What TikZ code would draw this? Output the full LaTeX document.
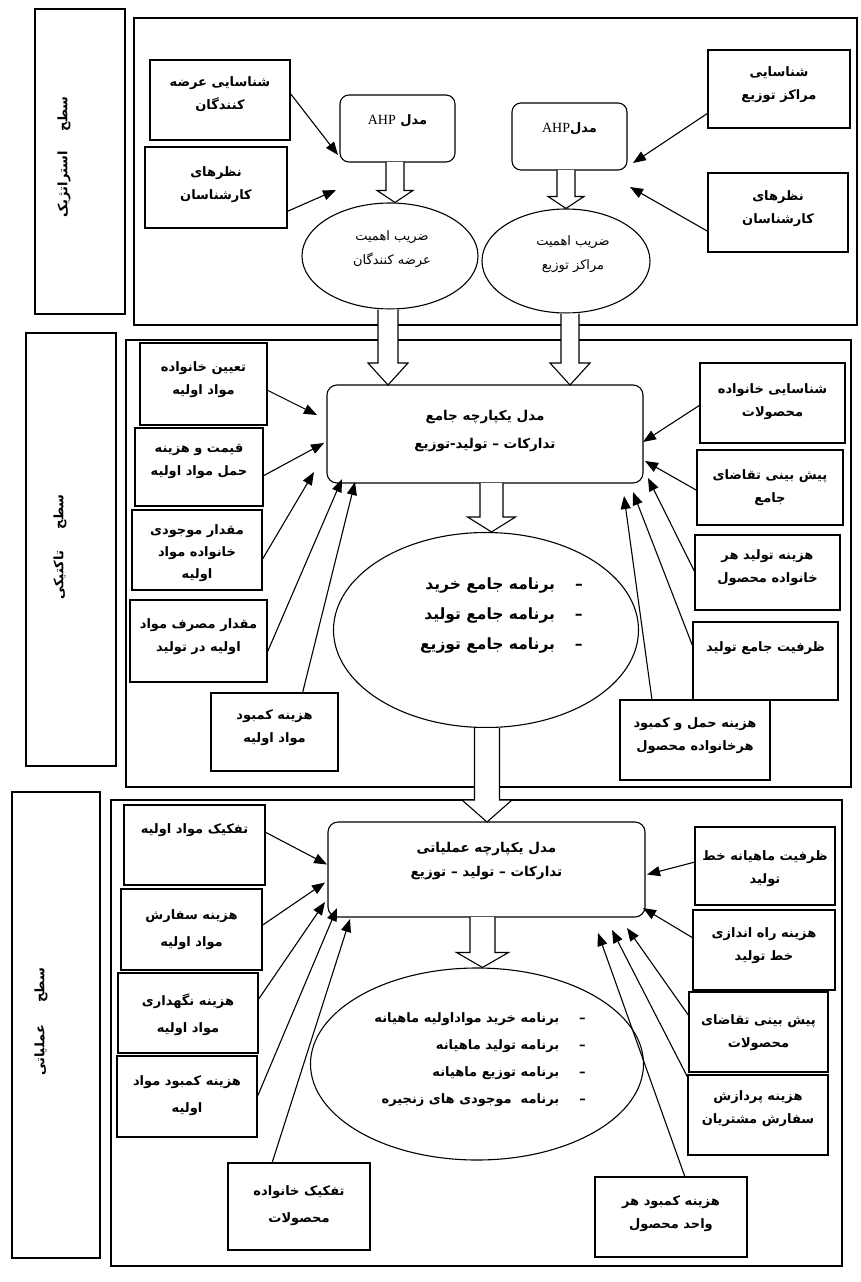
\documentclass[tikz,border=0pt]{standalone}
\usepackage{fontspec}
\newfontfamily\arabicfont[Script=Arabic]{DejaVu Sans}
\newfontfamily\latinserif{Liberation Serif}
\TeXXeTstate=1
\usetikzlibrary{arrows.meta,shapes.geometric,calc}
\newcommand\fa[1]{\beginR #1\endR}
\newcommand\bxfont{\arabicfont\bfseries\fontsize{13}{23}\selectfont}
\newcommand\mdfont{\arabicfont\bfseries\fontsize{13.5}{28}\selectfont}
\newcommand\elfont{\arabicfont\fontsize{13}{24}\selectfont}
\newcommand\lvfont{\arabicfont\bfseries\fontsize{13}{15}\selectfont}
\newcommand\tlfont{\arabicfont\bfseries\fontsize{15.5}{30}\selectfont}
\newcommand\olfont{\arabicfont\bfseries\fontsize{13}{27}\selectfont}
\newcommand\ahpfont{\latinserif\mdseries\fontsize{14}{16}\selectfont}
% #1 style, #2 top skip, #3 name, #4 x1, #5 y1, #6 x2, #7 y2, #8 text
\newcommand\bx[8]{\node[#1] (#3) at ({(#4+#6)/2},{(#5+#7)/2}) {\parbox[c][\dimexpr#7pt-#5pt\relax][t]{\dimexpr#6pt-#4pt\relax}{\centering\vspace*{#2}#8\par}};}
% #1 from, #2 to, #3 x shift, #4 shaft half width, #5 head half width, #6 head length
\newcommand\fatarrow[6]{\draw[fat] let \p1=($(#1)+(#3,0)$), \p2=(#2) in (\x1-#4,\y1) -- (\x1-#4,\y2+#6) -- (\x1-#5,\y2+#6) -- (\x1,\y2) -- (\x1+#5,\y2+#6) -- (\x1+#4,\y2+#6) -- (\x1+#4,\y1);}
\tikzset{
 panel/.style={draw, line width=1.2pt},
 sbox/.style={draw, line width=1.1pt, inner sep=0pt, outer sep=0pt, font=\bxfont},
 rbox/.style={sbox, rounded corners=10pt, font=\mdfont},
 ahp/.style={sbox, rounded corners=9pt},
 ell/.style={draw, ellipse, line width=1.1pt, inner sep=0pt},
 etext/.style={align=center, font=\elfont, inner sep=0pt},
 lvl/.style={rotate=90, font=\lvfont, inner sep=0pt},
 arr/.style={line width=1.1pt, -{Triangle[length=13pt,width=10pt]}},
 fat/.style={draw, line width=1.1pt, fill=white, line join=miter},
}
\begin{document}
\begin{tikzpicture}[x=1pt,y=-1pt]
\path[use as bounding box, fill=white] (0,0) rectangle (861,1282);

% ---------- panels ----------
\draw[panel] (35,9) rectangle (125,314);
\draw[panel] (134,18) rectangle (857,325);
\draw[panel] (26,333) rectangle (116,766);
\draw[panel] (126,340) rectangle (851,787);
\draw[panel] (12,792) rectangle (100,1258);
\draw[panel] (111,800) rectangle (842,1266);

\node[lvl] (lvS) at (64,157) {\fa{سطح\hspace{20pt}استراتژیک}};
\node[lvl] (lvT) at (60,547) {\fa{سطح\hspace{22pt}تاکتیکی}};
\node[lvl] (lvO) at (41,1022) {\fa{سطح\hspace{22pt}عملیاتی}};

% ---------- strategic ----------
\bx{sbox}{17pt}{sL1}{150}{60}{290}{140}{\fa{شناسایی عرضه}\\\fa{کنندگان}}
\bx{sbox}{20pt}{sL2}{145}{147}{287}{228}{\fa{نظرهای}\\\fa{کارشناسان}}
\bx{ahp}{20pt}{ahpL}{340}{95}{455}{162}{\fa{مدل \beginL{\ahpfont AHP}\endL}}
\bx{ahp}{20pt}{ahpR}{512}{103}{627}{170}{\fa{مدل\beginL{\ahpfont AHP}\endL}}
\bx{sbox}{17pt}{sR1}{708}{50}{850}{128}{\fa{شناسایی}\\\fa{مراکز توزیع}}
\bx{sbox}{18pt}{sR2}{708}{173}{848}{252}{\fa{نظرهای}\\\fa{کارشناسان}}
\node[ell, minimum width=176, minimum height=106] (ellL) at (390,256) {};
\node[ell, minimum width=168, minimum height=104] (ellR) at (566,261) {};
\node[etext] (ellLt) at (392,249) {\fa{ضریب اهمیت}\\\fa{عرضه کنندگان}};
\node[etext] (ellRt) at (573,254) {\fa{ضریب اهمیت}\\\fa{مراکز توزیع}};

\draw[arr] ($(sL1.east)+(0,-7)$) -- ($(ahpL.south west)+(-2,-7)$);
\draw[arr] ($(sL2.east)+(0,24)$) -- ($(ahpL.south west)+(-4,28)$);
\draw[arr] ($(sR1.west)+(0,24)$) -- ($(ahpR.south east)+(6,-7)$);
\draw[arr] ($(sR2.west)+(0,19)$) -- ($(ahpR.south east)+(3,17)$);

% ---------- tactical ----------
\bx{rbox}{25pt}{tm}{327}{385}{643}{483}{\fa{مدل یکپارچه جامع}\\\fa{تدارکات – تولید-توزیع}}
\node[ell, minimum width=305, minimum height=195] (tell) at (486,630) {};
\node[font=\tlfont, align=right, anchor=east, inner sep=0pt] (tlist) at (583,615)
 {\fa{–\hspace{20pt}برنامه جامع خرید}\\\fa{–\hspace{20pt}برنامه جامع تولید}\\\fa{–\hspace{20pt}برنامه جامع توزیع}};

\bx{sbox}{19pt}{tL1}{140}{343}{267}{425}{\fa{تعیین خانواده}\\\fa{مواد اولیه}}
\bx{sbox}{16pt}{tL2}{135}{428}{263}{506}{\fa{قیمت و هزینه}\\\fa{حمل مواد اولیه}}
\bx{sbox}{15pt}{tL3}{132}{510}{262}{590}{\fa{مقدار موجودی}\\[-1pt]\fa{خانواده مواد}\\[-1pt]\fa{اولیه}}
\bx{sbox}{19pt}{tL4}{130}{600}{267}{682}{\fa{مقدار مصرف مواد}\\\fa{اولیه در تولید}}
\bx{sbox}{17pt}{tL5}{211}{693}{338}{771}{\fa{هزینه کمبود}\\\fa{مواد اولیه}}
\bx{sbox}{21pt}{tR1}{700}{363}{845}{443}{\fa{شناسایی خانواده}\\\fa{محصولات}}
\bx{sbox}{20pt}{tR2}{697}{450}{843}{525}{\fa{پیش بینی تقاضای}\\\fa{جامع}}
\bx{sbox}{15pt}{tR3}{695}{535}{840}{610}{\fa{هزینه تولید هر}\\\fa{خانواده محصول}}
\bx{sbox}{20pt}{tR4}{693}{622}{838}{700}{\fa{ظرفیت جامع تولید}}
\bx{sbox}{18pt}{tR5}{620}{700}{770}{780}{\fa{هزینه حمل و کمبود}\\\fa{هرخانواده محصول}}

\draw[arr] ($(tL1.east)+(0,6)$) -- ($(tm.west)+(-10,-19)$);
\draw[arr] ($(tL2.east)+(0,9)$) -- ($(tm.west)+(-3,9)$);
\draw[arr] ($(tL3.east)+(0,10)$) -- ($(tm.south west)+(-13,-11)$);
\draw[arr] ($(tL4.east)+(0,12)$) -- ($(tm.south west)+(15,-4)$);
\draw[arr] ($(tL5.north)+(28,0)$) -- ($(tm.south west)+(28,-1)$);
\draw[arr] ($(tR1.west)+(0,2)$) -- ($(tm.east)+(0,8)$);
\draw[arr] ($(tR2.west)+(0,3)$) -- ($(tm.south east)+(2,-22)$);
\draw[arr] (tR3.west) -- ($(tm.south east)+(5,-5)$);
\draw[arr] ($(tR4.west)+(0,-14)$) -- ($(tm.south east)+(-10,9)$);
\draw[arr] ($(tR5.north)+(-43,0)$) -- ($(tm.south east)+(-19,13)$);

% ---------- operational ----------
\bx{rbox}{20pt}{om}{328}{822}{645}{917}{\fa{مدل یکپارچه عملیاتی}\\[-4pt]\fa{تدارکات – تولید – توزیع}}
\node[ell, minimum width=333, minimum height=192] (oell) at (477,1064) {};
\node[font=\olfont, align=right, anchor=east, inner sep=0pt] (olist) at (586,1060)
 {\fa{–\hspace{20pt}برنامه خرید مواداولیه ماهیانه}\\\fa{–\hspace{20pt}برنامه تولید ماهیانه}\\\fa{–\hspace{20pt}برنامه توزیع ماهیانه}\\\fa{–\hspace{20pt}برنامه\ \ موجودی های زنجیره}};

\bx{sbox}{19pt}{oL1}{124}{805}{265}{885}{\fa{تفکیک مواد اولیه}}
\bx{sbox}{21pt}{oL2}{121}{889}{262}{970}{\fa{هزینه سفارش}\\[4pt]\fa{مواد اولیه}}
\bx{sbox}{21pt}{oL3}{118}{973}{258}{1053}{\fa{هزینه نگهداری}\\[4pt]\fa{مواد اولیه}}
\bx{sbox}{20pt}{oL4}{117}{1056}{257}{1137}{\fa{هزینه کمبود مواد}\\[4pt]\fa{اولیه}}
\bx{sbox}{23pt}{oL5}{228}{1163}{370}{1250}{\fa{تفکیک خانواده}\\[4pt]\fa{محصولات}}
\bx{sbox}{24pt}{oR1}{695}{827}{835}{905}{\fa{ظرفیت ماهیانه خط}\\\fa{تولید}}
\bx{sbox}{18pt}{oR2}{693}{910}{835}{990}{\fa{هزینه راه اندازی}\\\fa{خط تولید}}
\bx{sbox}{23pt}{oR3}{689}{992}{828}{1072}{\fa{پیش بینی تقاضای}\\\fa{محصولات}}
\bx{sbox}{16pt}{oR4}{688}{1075}{828}{1155}{\fa{هزینه پردازش}\\\fa{سفارش مشتریان}}
\bx{sbox}{19pt}{oR5}{595}{1177}{747}{1257}{\fa{هزینه کمبود هر}\\\fa{واحد محصول}}

\draw[arr] ($(oL1.east)+(0,-13)$) -- ($(om.west)+(-1,-5)$);
\draw[arr] ($(oL2.east)+(0,-4)$) -- ($(om.west)+(-3,13)$);
\draw[arr] ($(oL3.east)+(0,-13)$) -- ($(om.south west)+(-3,-15)$);
\draw[arr] ($(oL4.east)+(0,1)$) -- ($(om.south west)+(9,-9)$);
\draw[arr] ($(oL5.north)+(-27,0)$) -- ($(om.south west)+(22,2)$);
\draw[arr] ($(oR1.west)+(0,-4)$) -- ($(om.east)+(2,5)$);
\draw[arr] ($(oR2.west)+(0,-12)$) -- ($(om.south east)+(-2,-9)$);
\draw[arr] ($(oR3.west)+(0,-16)$) -- ($(om.south east)+(-18,11)$);
\draw[arr] ($(oR4.west)+(0,-37)$) -- ($(om.south east)+(-33,13)$);
\draw[arr] ($(oR5.north)+(14,0)$) -- ($(om.south east)+(-47,16)$);

% ---------- hollow block arrows ----------
\fatarrow{ahpL.south}{ellL.north}{-2.5}{9pt}{18pt}{12pt}
\fatarrow{ahpR.south}{ellR.north}{-3.5}{9pt}{18pt}{12pt}
\fatarrow{ellL.south}{tm.north}{-2}{10pt}{20pt}{22pt}
\fatarrow{ellR.south}{tm.north}{4}{9pt}{20pt}{22pt}
\fatarrow{tm.south}{tell.north}{6.5}{11.5pt}{24pt}{15pt}
\fatarrow{tell.south}{om.north}{1}{12.5pt}{25pt}{22pt}
\fatarrow{om.south}{oell.north}{-4}{12.5pt}{26pt}{15pt}
\end{tikzpicture}
\end{document}
